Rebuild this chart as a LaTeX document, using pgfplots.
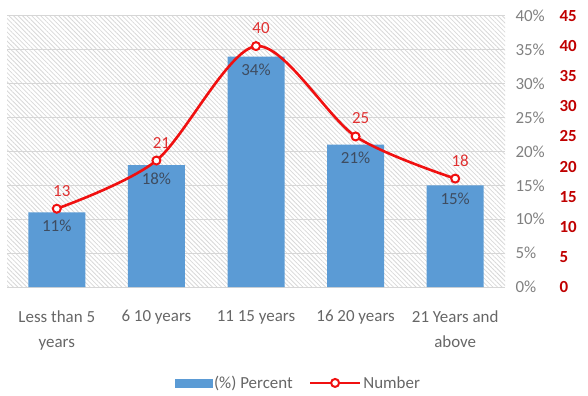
\documentclass[border=0pt]{standalone}
\usepackage{fontspec}
\setmainfont{Carlito}
\usepackage{pgfplots}
\pgfplotsset{compat=1.18}
\usetikzlibrary{patterns.meta}
\definecolor{barblue}{HTML}{5B9BD5}
\definecolor{linered}{HTML}{F01010}
\definecolor{labred}{HTML}{E03030}
\definecolor{darkred}{HTML}{C00000}
\definecolor{tickgray}{HTML}{808080}
\definecolor{labgray}{HTML}{666666}
\definecolor{barlab}{HTML}{3E4C60}
\definecolor{gridgray}{HTML}{D6D6D6}
\definecolor{hatch}{HTML}{D8D8D8}
\pgfplotsset{mylinelegend/.style={legend image code/.code={\draw[mark repeat=2, mark phase=2, ##1] plot coordinates {(0bp,0bp) (25bp,0bp) (50bp,0bp)};}}}
\begin{document}
\begin{tikzpicture}
\begin{axis}[
  name=ax1,
  scale only axis, width=498bp, height=271bp,
  xmin=-0.5, xmax=4.5, ymin=0, ymax=40,
  axis y line*=right, axis x line*=bottom,
  axis line style={draw=none},
  major tick length=0pt,
  ytick={0,5,...,40},
  yticklabel={\pgfmathprintnumber{\tick}\%},
  yticklabel style={anchor=west, xshift=7bp, text=tickgray, font=\fontsize{17}{20}\selectfont},
  /pgf/number format/assume math mode=true,
  ymajorgrids, grid style={gridgray, line width=1bp},
  xtick={0,1,2,3,4},
  xticklabels={Less than 5\\years, 6 10 years, 11 15 years, 16 20 years, 21 Years and\\above},
  xticklabel style={align=center, text=labgray, font=\fontsize{17}{25}\selectfont, yshift=-20bp},
  axis background/.style={pattern={Lines[angle=-45, distance=3.2bp, line width=0.8bp]}, pattern color=hatch},
  ybar, bar width=57bp,
  clip=false,
]
\addplot[fill=barblue, draw=none,
  nodes near coords={\pgfmathprintnumber{\pgfplotspointmeta}\%},
  nodes near coords style={anchor=north, yshift=-4bp, text=barlab, font=\fontsize{17}{20}\selectfont}]
  coordinates {(0,11) (1,18) (2,34) (3,21) (4,15)};
\coordinate (ll) at (rel axis cs:0,0);
\coordinate (ur) at (rel axis cs:1,1);
\end{axis}
\begin{axis}[
  scale only axis, width=498bp, height=271bp,
  xmin=-0.5, xmax=4.5, ymin=0, ymax=45,
  axis y line*=right, axis x line*=bottom,
  axis line style={draw=none},
  major tick length=0pt,
  xtick=\empty,
  ytick={0,5,...,45},
  yticklabel style={anchor=west, xshift=51bp, text=darkred, font=\fontsize{17}{20}\selectfont\bfseries},
  /pgf/number format/assume math mode=true,
  clip=false,
  legend style={at={(0.585,-0.354)}, anchor=center, draw=none, fill=none,
    legend columns=2, font=\fontsize{17}{20}\selectfont, text=labgray,
    /tikz/every even column/.append style={column sep=14bp}},
]
\addlegendimage{legend image code/.code={\fill[barblue] (0bp,-4bp) rectangle (37bp,4bp);}}
\addlegendentry{(\%) Percent}
\addplot[linered, line width=2.6bp, smooth, mark=*, mark size=4bp,
  mark options={fill=white, draw=linered, line width=2bp},
  mylinelegend,
  nodes near coords,
  nodes near coords style={anchor=center, yshift=18bp, xshift=5bp, text=labred, font=\fontsize{17}{20}\selectfont}]
  coordinates {(0,13) (1,21) (2,40) (3,25) (4,18)};
\addlegendentry{Number}
\end{axis}
\path (ll) +(-7bp,-109bp) (ur) +(83bp,16bp);
\end{tikzpicture}
\end{document}
